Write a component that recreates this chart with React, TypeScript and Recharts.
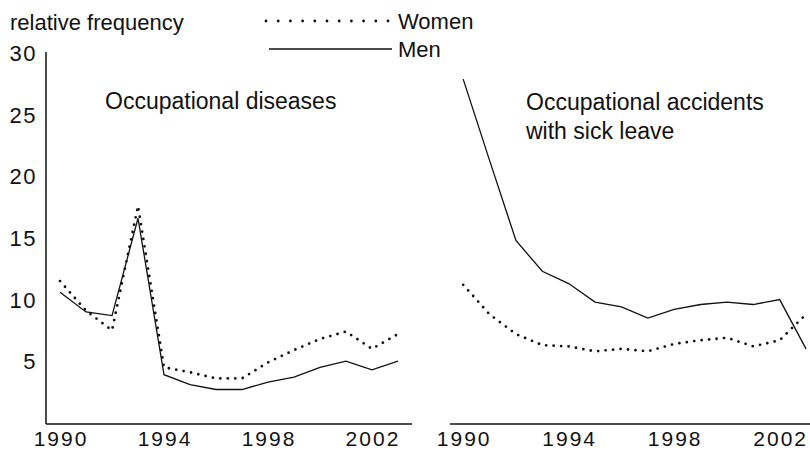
import React from "react";
import { LineChart, Line, XAxis, YAxis } from "recharts";

const years = [1990, 1991, 1992, 1993, 1994, 1995, 1996, 1997, 1998, 1999, 2000, 2001, 2002, 2003];

// relative frequency
const diseasesWomen = [11.6, 9.2, 7.6, 17.7, 4.6, 4.2, 3.7, 3.7, 5.0, 6.0, 6.9, 7.5, 6.1, 7.3];
const diseasesMen = [10.7, 9.1, 8.8, 16.7, 4.0, 3.2, 2.8, 2.8, 3.4, 3.8, 4.6, 5.1, 4.4, 5.1];
const accidentsWomen = [11.3, 8.9, 7.3, 6.4, 6.3, 5.9, 6.1, 5.9, 6.5, 6.8, 7.0, 6.3, 6.8, 8.9];
const accidentsMen = [28.0, 21.4, 14.9, 12.4, 11.4, 9.9, 9.5, 8.6, 9.3, 9.7, 9.9, 9.7, 10.1, 6.1];

const yTicks = [5, 10, 15, 20, 25, 30];
const xTicks = [1990, 1994, 1998, 2002];

const INK = "#111";
const FONT = "'Liberation Sans', Arial, Helvetica, sans-serif";

const toRows = (women: number[], men: number[]) =>
  years.map((year, i) => ({ year, women: women[i], men: men[i] }));

const diseases = toRows(diseasesWomen, diseasesMen);
const accidents = toRows(accidentsWomen, accidentsMen);

const XTick = (props: any) => {
  const { x, y, payload } = props;
  return (
    <text x={x + 1} y={y} dy="0.71em" textAnchor="middle" fill={INK} fontSize={21} fontFamily={FONT} letterSpacing={2}>
      {payload.value}
    </text>
  );
};

const YTick = (props: any) => {
  const { x, y, payload } = props;
  return (
    <text x={x + 1} y={y - 1} dy="0.355em" textAnchor="end" fill={INK} fontSize={22} fontFamily={FONT} letterSpacing={1.5}>
      {payload.value}
    </text>
  );
};

const Panel = ({ data, domain, showY, width, margin }: any) => (
  <LineChart width={width} height={451} data={data} margin={margin}>
    <XAxis
      dataKey="year"
      type="number"
      domain={domain}
      ticks={xTicks}
      interval={0}
      tickLine={false}
      tickSize={0}
      tickMargin={7}
      height={27}
      axisLine={{ stroke: INK, strokeWidth: 1.5 }}
      tick={<XTick />}
    />
    <YAxis
      type="number"
      domain={[0, 30.2]}
      ticks={yTicks}
      hide={!showY}
      width={46}
      tickLine={false}
      tickSize={0}
      tickMargin={10}
      axisLine={{ stroke: INK, strokeWidth: 1.5 }}
      tick={<YTick />}
    />
    <Line
      type="linear"
      dataKey="women"
      stroke={INK}
      strokeWidth={2.8}
      strokeDasharray="0 7.5"
      strokeLinecap="round"
      dot={false}
      isAnimationActive={false}
    />
    <Line
      type="linear"
      dataKey="men"
      stroke={INK}
      strokeWidth={1.3}
      dot={false}
      isAnimationActive={false}
    />
  </LineChart>
);

export default function App() {
  return (
    <div style={{ position: "absolute", left: 0, top: 0, width: 810, height: 451, background: "#fff", overflow: "hidden", fontFamily: FONT }}>
      <div style={{ position: "absolute", left: 0, top: 0 }}>
        <Panel
          data={diseases}
          domain={[1989.46, 2003.54]}
          showY
          width={420}
          margin={{ top: 52, right: 8, bottom: 0, left: 0 }}
        />
      </div>
      <div style={{ position: "absolute", left: 420, top: 0 }}>
        <Panel
          data={accidents}
          domain={[1989.5, 2003.15]}
          showY={false}
          width={390}
          margin={{ top: 52, right: 0, bottom: 0, left: 30 }}
        />
      </div>
      <svg width={810} height={451} style={{ position: "absolute", left: 0, top: 0, pointerEvents: "none" }}>
        <g fill={INK} fontFamily={FONT} fontSize={22}>
          <text x={10} y={30}>relative frequency</text>
          <text x={398} y={29}>Women</text>
          <text x={398} y={57}>Men</text>
          <text x={105} y={109} fontSize={23}>Occupational diseases</text>
          <text x={526} y={110} fontSize={23}>Occupational accidents</text>
          <text x={526} y={139} fontSize={23}>with sick leave</text>
        </g>
        <line x1={266} y1={21} x2={388} y2={21} stroke={INK} strokeWidth={2.8} strokeDasharray="0 12.2" strokeLinecap="round" />
        <line x1={269} y1={49} x2={392} y2={49} stroke={INK} strokeWidth={1.3} />
      </svg>
    </div>
  );
}
